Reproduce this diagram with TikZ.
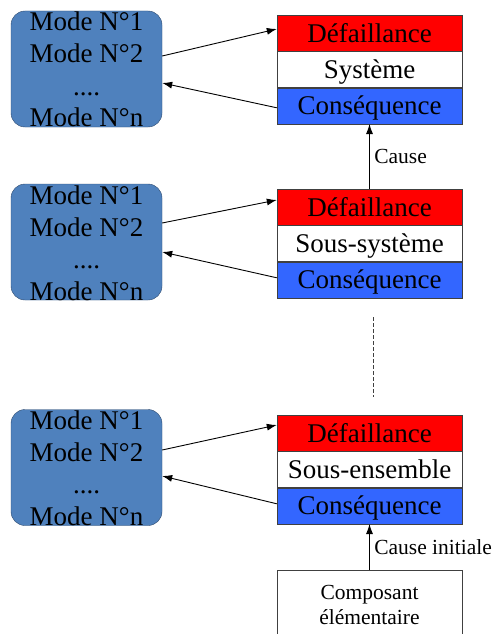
\documentclass[tikz,border=0pt]{standalone}
\usepackage{fontspec}
\setmainfont{Liberation Serif}
\usetikzlibrary{positioning,arrows.meta}
\definecolor{modeblue}{HTML}{4F81BD}
\definecolor{modeedge}{HTML}{2E4A6E}
\definecolor{consblue}{HTML}{3366FF}
\definecolor{edgegray}{HTML}{404040}
\newcommand{\modelist}{\smash{\raisebox{38pt}{\begin{tabular}[t]{@{}c@{}}Mode N°1\\Mode N°2\\....\\Mode N°n\end{tabular}}}}
\tikzset{
  modebox/.style={draw=modeedge, fill=modeblue, rounded corners=14pt, minimum width=151pt,
    minimum height=116pt, inner sep=0pt, font=\fontsize{27}{32}\selectfont},
  part/.style={draw=edgegray, minimum width=185pt, minimum height=36pt, inner sep=0pt,
    text height=21pt, text depth=3pt, font=\fontsize{27}{32}\selectfont},
  fail/.style={part, fill=red},
  cons/.style={part, fill=consblue},
  small/.style={font=\fontsize{21.5}{25}\selectfont},
  link/.style={->, line width=0.9pt},
}
\begin{document}
\begin{tikzpicture}[x=1pt, y=-1pt, >={Latex[length=10pt,width=7pt]}]
	\useasboundingbox (0,0) rectangle (493,634);
	% systeme
	\node[modebox] (m1) at (86.5,69) {\modelist};
	\node[fail] (d1) at (369.5,33) {Défaillance};
	\node[part, below=0pt of d1] (s1) {Système};
	\node[cons, below=0pt of s1] (c1) {Conséquence};
	\draw[link] ([yshift=13pt]m1.east) -- ([yshift=4pt]d1.west);
	\draw[link] ([yshift=-2pt]c1.west) -- ([yshift=-14pt]m1.east);
	% sous-systeme
	\node[modebox] (m2) at (86.5,242) {\modelist};
	\node[fail] (d2) at (369.5,207) {Défaillance};
	\node[part, below=0pt of d2] (s2) {Sous-système};
	\node[cons, below=0pt of s2] (c2) {Conséquence};
	\draw[link] ([yshift=19pt]m2.east) -- ([yshift=7pt]d2.west);
	\draw[link] ([yshift=2pt]c2.west) -- ([yshift=-10pt]m2.east);
	\draw[link] (d2.north) -- (c1.south) node[small, midway, right=1pt] {Cause};
	\draw[edgegray, line width=0.8pt, dash pattern=on 4pt off 2pt] (373,317) -- (373,397);
	% sous-ensemble
	\node[modebox] (m3) at (86.5,467.5) {\modelist};
	\node[fail] (d3) at (369.5,433) {Défaillance};
	\node[part, below=0pt of d3] (s3) {Sous-ensemble};
	\node[cons, below=0pt of s3] (c3) {Conséquence};
	\draw[link] ([yshift=17.5pt]m3.east) -- ([yshift=8pt]d3.west);
	\draw[link] ([yshift=2pt]c3.west) -- ([yshift=-8.5pt]m3.east);
	% composant
	\node[draw=edgegray, small, align=center, minimum width=185pt, minimum height=70pt,
	  anchor=north] (comp) at (369.5,570) {Composant\\élémentaire};
	\draw[link] (comp.north) -- (c3.south) node[small, midway, right=1pt] {Cause initiale};
\end{tikzpicture}
\end{document}
